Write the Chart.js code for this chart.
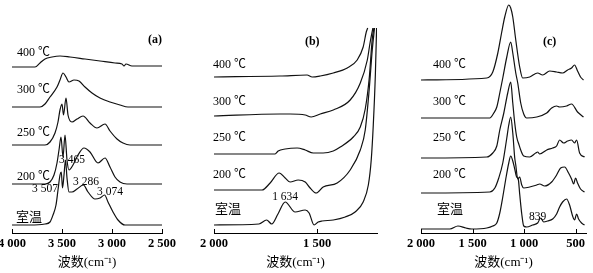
<!DOCTYPE html>
<html>
<head>
<meta charset="utf-8">
<script src="https://cdn.jsdelivr.net/npm/chart.js@4.4.0/dist/chart.umd.min.js"></script>
<style>
  html, body { margin: 0; padding: 0; background: #fff; }
  #wrap { position: relative; width: 593px; height: 273px; }
  #wrap canvas { position: absolute; left: 0; top: 0; }
</style>
</head>
<body>
<div id="wrap">
  <canvas id="chartA" width="593" height="273"></canvas>
  <canvas id="chartB" width="593" height="273"></canvas>
  <canvas id="chartC" width="593" height="273"></canvas>
</div>
<script>
// series names (bottom to top)
const temps = ['室温', '200 ℃', '250 ℃', '300 ℃', '400 ℃'];

// ---- panel (a): 4000-2500 cm-1 ----
const a_ticks = [4000, 3500, 3000, 2500];
const a_offset = [8, 49, 88, 126, 166];
const a_rt_wn = [4000, 3820, 3670, 3620, 3590, 3560, 3540, 3520, 3507, 3495, 3480, 3465, 3450, 3430, 3400, 3350, 3286, 3240, 3170, 3120, 3074, 3040, 2990, 2940, 2870, 2500];
const a_rt_abs = [0, 0, 1, 3, 10, 20, 35, 50, 53, 37, 50, 65, 47, 33, 33, 36, 40, 33, 26, 27, 30, 23, 13, 5, 0, 0];
const a_200_wn = [4000, 3670, 3620, 3580, 3550, 3530, 3510, 3490, 3470, 3450, 3430, 3390, 3340, 3280, 3220, 3140, 3070, 3020, 2970, 2920, 2850, 2500];
const a_200_abs = [0, 0, 2, 9, 21, 34, 47, 27, 49, 24, 14, 19, 29, 36, 32, 21, 26, 17, 7, 2, 0, 0];
const a_250_wn = [4000, 3670, 3620, 3570, 3540, 3520, 3500, 3485, 3460, 3440, 3400, 3350, 3290, 3220, 3150, 3070, 3020, 2950, 2890, 2820, 2500];
const a_250_abs = [0, 0, 3, 12, 23, 35, 41, 30, 47, 30, 23, 26, 29, 22, 17, 21, 14, 6, 2, 0, 0];
const a_300_wn = [4000, 3720, 3670, 3620, 3550, 3520, 3490, 3460, 3430, 3380, 3330, 3270, 3200, 3120, 3020, 2920, 2840, 2500];
const a_300_abs = [0, 0, 3, 10, 20, 27, 34, 30, 25, 27, 26, 20, 14, 9, 5, 2, 0, 0];
const a_400_wn = [4000, 3770, 3720, 3670, 3600, 3520, 3420, 3270, 3120, 2970, 2900, 2880, 2860, 2800, 2500];
const a_400_abs = [0, 0, 4, 8, 10, 11, 10, 8, 6, 4, 3, 1, 3, 1, 1];

// ---- panel (b): 2000-1210 cm-1 ----
const b_ticks = [2000, 1500];
const b_offset = [8, 43, 79, 117, 156];
const b_rt_wn = [2000, 1782, 1745, 1720, 1690, 1655, 1607, 1558, 1539, 1515, 1495, 1476, 1422, 1364, 1316, 1277, 1252, 1238, 1228, 1218, 1212];
const b_rt_abs = [0, 1, 5, 1, 11, 23, 13, 15, 12, 0, 3, 4, 5, 8, 13, 23, 40, 65, 100, 150, 197];
const b_200_wn = [2000, 1767, 1728, 1684, 1655, 1631, 1592, 1558, 1534, 1505, 1471, 1403, 1340, 1291, 1267, 1248, 1233, 1222];
const b_200_abs = [0, 0, 7, 17, 12, 8, 10, 8, 2, -3, 3, 7, 20, 40, 60, 100, 140, 162];
const b_250_wn = [2000, 1704, 1689, 1655, 1597, 1558, 1519, 1471, 1422, 1388, 1325, 1291, 1267, 1248, 1233, 1225];
const b_250_abs = [0, 0, 3, 5, 6, 4, 1, 1, 3, 7, 17, 27, 45, 75, 115, 126];
const b_300_wn = [2000, 1680, 1631, 1558, 1529, 1485, 1422, 1340, 1291, 1257, 1243, 1230];
const b_300_abs = [0, 2, 2, 1, -1, 2, 6, 16, 33, 56, 74, 88];
const b_400_wn = [2000, 1680, 1549, 1524, 1485, 1422, 1354, 1306, 1277, 1262, 1255];
const b_400_abs = [0, 1, 2, 0, 1, 4, 9, 17, 30, 45, 49];

// ---- panel (c): 2000-400 cm-1 ----
const c_ticks = [2000, 1500, 1000, 500];
const c_offset = [4, 40, 75, 115, 153];
const c_rt_wn = [2000, 1720, 1642, 1565, 1507, 1362, 1304, 1265, 1236, 1207, 1178, 1149, 1130, 1110, 1091, 1072, 1057, 1043, 1023, 1004, 975, 917, 869, 839, 810, 772, 723, 685, 656, 627, 588, 559, 530, 511, 491, 472, 443, 414];
const c_rt_abs = [0, 0, 3, 1, 0, 1, 3, 6, 16, 32, 50, 66, 73, 68, 60, 52, 50, 35, 15, 3, 2, 4, 6, 11, 7, 8, 10, 15, 22, 27, 30, 24, 13, 9, 15, 10, 6, 4];
const c_200_wn = [2000, 1333, 1284, 1246, 1207, 1168, 1149, 1130, 1110, 1091, 1081, 1062, 1043, 1023, 1004, 946, 878, 849, 801, 733, 685, 646, 607, 569, 540, 520, 501, 482, 453, 414];
const c_200_abs = [0, 1, 5, 15, 30, 55, 68, 76, 60, 35, 28, 14, 16, 8, 5, 6, 8, 9, 7, 11, 18, 25, 26, 20, 14, 9, 15, 10, 4, 1];
const c_250_wn = [2000, 1362, 1304, 1265, 1236, 1197, 1159, 1130, 1110, 1091, 1072, 1052, 1033, 1004, 946, 888, 869, 849, 781, 723, 685, 656, 617, 578, 540, 511, 491, 462, 414];
const c_250_abs = [0, 1, 5, 12, 28, 45, 65, 76, 55, 35, 21, 14, 8, 2, 1, 5, 6, 4, 8, 10, 12, 18, 15, 17, 18, 15, 18, 5, 1];
const c_300_wn = [2000, 1333, 1294, 1265, 1236, 1207, 1168, 1130, 1110, 1081, 1062, 1033, 1004, 975, 878, 781, 733, 685, 656, 588, 540, 482, 424];
const c_300_abs = [0, 0, 5, 11, 25, 40, 61, 76, 65, 45, 35, 15, 4, 0, 1, 5, 10, 12, 11, 12, 14, 6, 1];
const c_400_wn = [2000, 1362, 1304, 1255, 1217, 1188, 1149, 1130, 1110, 1081, 1043, 1014, 946, 869, 820, 752, 685, 627, 578, 540, 511, 482, 453, 424];
const c_400_abs = [0, 2, 8, 27, 48, 63, 75, 72, 63, 40, 13, 2, 3, 7, 5, 9, 8, 7, 10, 12, 15, 9, 3, 0];

const serif = "'Liberation Serif', 'Noto Sans CJK SC', serif";
const fTemp = '12px ' + serif;
const fCjk = '13px ' + serif;
const fNum = '11.5px ' + serif;
const fPanel = 'bold 12px ' + serif;

// draws labels at data coordinates and the small upward tick marks
const panelText = {
  id: 'panelText',
  afterDatasetsDraw(chart, args, opts) {
    const { ctx, chartArea } = chart;
    const x = chart.scales.x, y = chart.scales.y;
    ctx.save();
    ctx.fillStyle = '#000';
    ctx.textBaseline = 'middle';
    (opts.items || []).forEach(it => {
      ctx.font = it.font;
      ctx.textAlign = it.align || 'left';
      ctx.fillText(it.text, x.getPixelForValue(it.wn), y.getPixelForValue(it.v));
    });
    ctx.strokeStyle = '#000';
    ctx.lineWidth = 1;
    x.ticks.forEach(t => {
      const px = Math.round(x.getPixelForValue(t.value)) + 0.5;
      ctx.beginPath();
      ctx.moveTo(px, chartArea.bottom);
      ctx.lineTo(px, chartArea.bottom - 4);
      ctx.stroke();
    });
    ctx.restore();
  }
};

function fmtTick(v) {
  if (v >= 1000) return Math.floor(v / 1000) + ' ' + String(v % 1000).padStart(3, '0');
  return String(v);
}

function makeSeries(wns, abss, offsets) {
  return wns.map((wn, i) => ({
    label: temps[i],
    data: wn.map((w, j) => ({ x: w, y: abss[i][j] + offsets[i] })),
    borderColor: '#111',
    borderWidth: 1.2,
    pointRadius: 0,
    fill: false,
    cubicInterpolationMode: 'monotone'
  }));
}

function makeChart(id, datasets, xmin, xmax, ticks, padLeft, padRight, items) {
  return new Chart(document.getElementById(id), {
    type: 'line',
    data: { datasets: datasets },
    options: {
      responsive: false,
      devicePixelRatio: 1,
      animation: false,
      events: [],
      layout: { padding: { left: padLeft, right: padRight, top: 3, bottom: 0 } },
      plugins: {
        legend: { display: false },
        tooltip: { enabled: false },
        panelText: { items: items }
      },
      scales: {
        x: {
          type: 'linear',
          reverse: true,
          min: xmin,
          max: xmax,
          afterBuildTicks: s => { s.ticks = ticks.map(v => ({ value: v })); },
          afterFit: s => { s.height = 40; s.paddingLeft = 0; s.paddingRight = 0; },
          grid: { display: false, drawTicks: false },
          border: { display: true, color: '#000', width: 1 },
          ticks: {
            padding: 3,
            color: '#000',
            maxRotation: 0,
            font: { family: serif, size: 12.5, weight: 'bold' },
            callback: v => fmtTick(v)
          },
          title: {
            display: true,
            text: '波数(cm⁻¹)',
            color: '#000',
            font: { family: serif, size: 13 },
            padding: { top: 0, bottom: 3 }
          }
        },
        y: { display: false, min: 0, max: 230 }
      }
    },
    plugins: [panelText]
  });
}

makeChart('chartA',
  makeSeries([a_rt_wn, a_200_wn, a_250_wn, a_300_wn, a_400_wn],
             [a_rt_abs, a_200_abs, a_250_abs, a_300_abs, a_400_abs], a_offset),
  2500, 4000, a_ticks, 12, 431, [
    { text: temps[4], wn: 3950, v: 180, font: fTemp },
    { text: temps[3], wn: 3950, v: 143, font: fTemp },
    { text: temps[2], wn: 3950, v: 100, font: fTemp },
    { text: temps[1], wn: 3950, v: 56, font: fTemp },
    { text: temps[0], wn: 3960, v: 15, font: fCjk },
    { text: '3 465', wn: 3400, v: 73, font: fNum, align: 'center' },
    { text: '3 286', wn: 3260, v: 51, font: fNum, align: 'center' },
    { text: '3 074', wn: 3020, v: 41, font: fNum, align: 'center' },
    { text: '3 507', wn: 3670, v: 44, font: fNum, align: 'center' },
    { text: '(a)', wn: 2570, v: 193, font: fPanel, align: 'center' }
  ]);

makeChart('chartB',
  makeSeries([b_rt_wn, b_200_wn, b_250_wn, b_300_wn, b_400_wn],
             [b_rt_abs, b_200_abs, b_250_abs, b_300_abs, b_400_abs], b_offset),
  1210, 2000, b_ticks, 214, 216, [
    { text: temps[4], wn: 2005, v: 168, font: fTemp },
    { text: temps[3], wn: 2005, v: 131, font: fTemp },
    { text: temps[2], wn: 2005, v: 95, font: fTemp },
    { text: temps[1], wn: 2005, v: 58, font: fTemp },
    { text: temps[0], wn: 1995, v: 23, font: fCjk },
    { text: '1 634', wn: 1655, v: 36, font: fNum, align: 'center' },
    { text: '(b)', wn: 1524, v: 191, font: fPanel, align: 'center' }
  ]);

makeChart('chartC',
  makeSeries([c_rt_wn, c_200_wn, c_250_wn, c_300_wn, c_400_wn],
             [c_rt_abs, c_200_abs, c_250_abs, c_300_abs, c_400_abs], c_offset),
  400, 2000, c_ticks, 421, 7, [
    { text: temps[4], wn: 1884, v: 168, font: fTemp },
    { text: temps[3], wn: 1884, v: 131, font: fTemp },
    { text: temps[2], wn: 1884, v: 95, font: fTemp },
    { text: temps[1], wn: 1884, v: 58, font: fTemp },
    { text: temps[0], wn: 1845, v: 23, font: fCjk },
    { text: '839', wn: 868, v: 16, font: fNum, align: 'center' },
    { text: '(c)', wn: 752, v: 191, font: fPanel, align: 'center' }
  ]);
</script>
</body>
</html>
